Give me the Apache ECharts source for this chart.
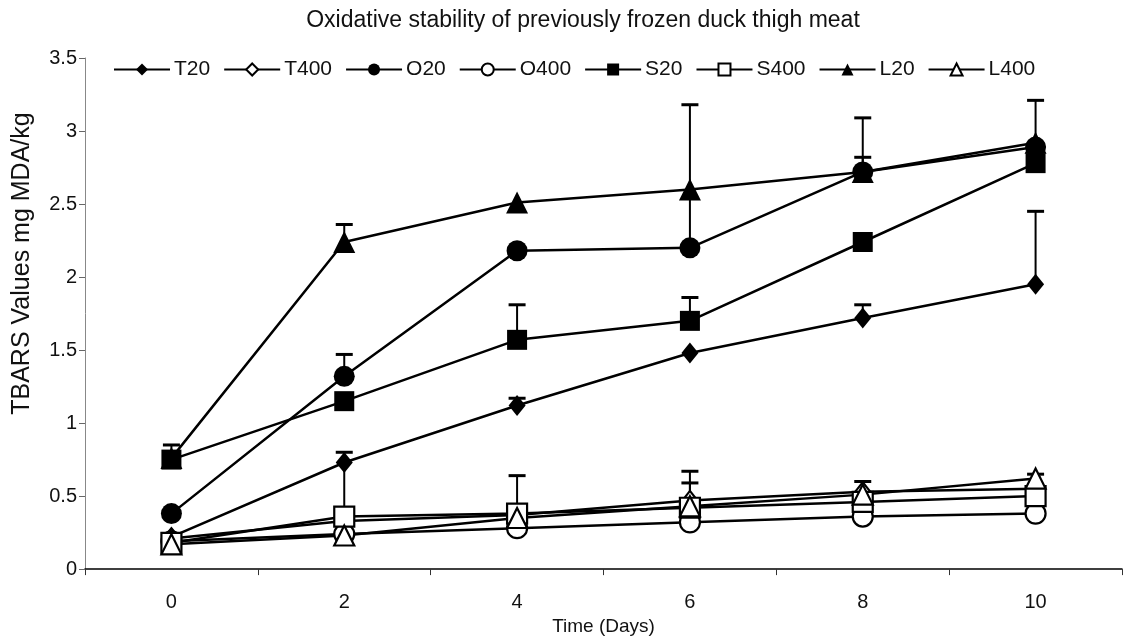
<!DOCTYPE html>
<html>
<head>
<meta charset="utf-8">
<script src="https://cdn.jsdelivr.net/npm/echarts@6/dist/echarts.min.js"></script>
<style>html,body{margin:0;padding:0;background:#fff;}#c{width:1127px;height:641px;}</style>
</head>
<body>
<div id="c"></div>
<script>
const days = ['0', '2', '4', '6', '8', '10'];
const seriesNames = ['T20', 'T400', 'O20', 'O400', 'S20', 'S400', 'L20', 'L400'];
const T20  = [0.22, 0.73, 1.12, 1.48, 1.72, 1.95];
const T400 = [0.21, 0.33, 0.37, 0.47, 0.53, 0.55];
const O20  = [0.38, 1.32, 2.18, 2.20, 2.72, 2.89];
const O400 = [0.19, 0.24, 0.28, 0.32, 0.36, 0.38];
const S20  = [0.75, 1.15, 1.57, 1.70, 2.24, 2.78];
const S400 = [0.18, 0.36, 0.38, 0.42, 0.46, 0.50];
const L20  = [0.76, 2.24, 2.51, 2.60, 2.72, 2.92];
const L400 = [0.17, 0.23, 0.35, 0.43, 0.51, 0.62];
// upper ends of error bars (null = none drawn)
const T20_err  = [null, null, 1.17, null, 1.81, 2.45];
const T400_err = [null, null, null, 0.67, null, null];
const O20_err  = [null, 1.47, null, 3.18, 3.09, 3.21];
const O400_err = [null, null, null, null, null, null];
const S20_err  = [null, null, 1.81, 1.86, null, null];
const S400_err = [null, 0.80, 0.64, null, null, null];
const L20_err  = [0.85, 2.36, null, null, 2.82, null];
const L400_err = [null, null, null, 0.59, 0.60, 0.65];
const yTicks = [0, 0.5, 1, 1.5, 2, 2.5, 3, 3.5];

const values = [T20, T400, O20, O400, S20, S400, L20, L400];
const errs = [T20_err, T400_err, O20_err, O400_err, S20_err, S400_err, L20_err, L400_err];
const symbols = ['diamond', 'diamond', 'circle', 'circle', 'rect', 'rect', 'triangle', 'triangle'];
const sizes = [[17, 21], [15, 19], 21, 20, 20, 20, 22, 20];
const filled = [true, false, true, false, true, false, true, false];

const errData = [];
errs.forEach((arr, si) => arr.forEach((u, i) => {
  if (u != null) errData.push([i, values[si][i], u]);
}));

const lineSeries = seriesNames.map((n, si) => ({
  name: n, type: 'line', data: values[si],
  symbol: symbols[si], symbolSize: sizes[si], z: 3,
  lineStyle: {color: '#000', width: 2.5},
  itemStyle: {color: filled[si] ? '#000' : '#fff', borderColor: '#000', borderWidth: filled[si] ? 0 : 2.2},
  emphasis: {disabled: true}, animation: false
}));

const errSeries = {
  type: 'custom', name: 'err', z: 2, silent: true, animation: false,
  data: errData,
  encode: {x: 0, y: [1, 2]},
  renderItem: function (params, api) {
    const lo = api.coord([api.value(0), api.value(1)]);
    const hi = api.coord([api.value(0), api.value(2)]);
    const hw = 8.5;
    return {type: 'group', children: [
      {type: 'line', shape: {x1: lo[0], y1: lo[1], x2: hi[0], y2: hi[1]}, style: {stroke: '#000', lineWidth: 2}},
      {type: 'line', shape: {x1: hi[0] - hw, y1: hi[1], x2: hi[0] + hw, y2: hi[1]}, style: {stroke: '#000', lineWidth: 3}}
    ]};
  }
};

const chart = echarts.init(document.getElementById('c'), null, {renderer: 'canvas'});
chart.setOption({
  backgroundColor: '#fff',
  animation: false,
  title: {
    text: 'Oxidative stability of previously frozen duck thigh meat',
    left: 578, top: 4, textAlign: 'center',
    textStyle: {fontFamily: 'Liberation Sans', fontSize: 23, fontWeight: 'normal', color: '#111'}
  },
  legend: {
    data: seriesNames, left: 108, top: 54,
    itemWidth: 56, itemHeight: 15, itemGap: 13,
    textStyle: {fontFamily: 'Liberation Sans', fontSize: 21, color: '#111', padding: [0, 0, 0, -1]}
  },
  grid: {left: 85, right: 5, top: 58, bottom: 65},
  xAxis: {
    type: 'category', data: days, boundaryGap: true,
    name: 'Time (Days)', nameLocation: 'middle', nameGap: 47,
    nameTextStyle: {fontFamily: 'Liberation Sans', fontSize: 19, color: '#111'},
    axisLine: {lineStyle: {color: '#000', width: 1.5}},
    axisTick: {show: true, length: 6, lineStyle: {color: '#333'}},
    axisLabel: {fontFamily: 'Liberation Sans', fontSize: 20, color: '#111', margin: 23}
  },
  yAxis: {
    type: 'value', min: 0, max: 3.5, interval: 0.5,
    name: 'TBARS Values mg MDA/kg', nameLocation: 'middle', nameGap: 50,
    nameTextStyle: {fontFamily: 'Liberation Sans', fontSize: 25, color: '#111', padding: [0, 0, 0, 100]},
    axisLine: {show: true, lineStyle: {color: '#888', width: 1}},
    axisTick: {show: true, length: 6, lineStyle: {color: '#666'}},
    splitLine: {show: false},
    axisLabel: {fontFamily: 'Liberation Sans', fontSize: 20, color: '#111', margin: 8,
      formatter: v => (yTicks.indexOf(v) >= 0 ? String(v) : '')}
  },
  series: [errSeries].concat(lineSeries)
});
</script>
</body>
</html>
